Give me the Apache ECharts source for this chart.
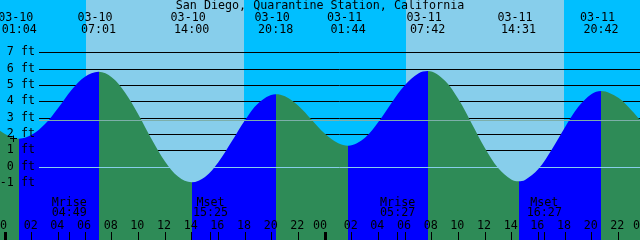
<!DOCTYPE html>
<html><head><meta charset="utf-8">
<script src="https://cdn.jsdelivr.net/npm/echarts@6/dist/echarts.min.js"></script>
<style>html,body{margin:0;padding:0;background:#00BFFF}#c{width:640px;height:240px}</style>
</head><body><div id="c"></div>
<script>
// ---- data (hours counted from 03-10 00:00 local) ----
const titleText = 'San Diego, Quarantine Station, California';
const tideHours = [-1, 0, 1.067, 2, 3, 4, 5, 6, 7.017, 8, 9, 10, 11, 12, 13, 14.0, 15, 16, 17, 18, 19, 20.3, 21, 22, 23, 24, 25, 25.733, 27, 28, 29, 30, 31, 31.7, 33, 34, 35, 36, 37, 38, 38.517, 39, 40, 41, 42, 43, 44, 44.7, 46, 47, 48];
const tideFeet  = [2.60, 2.00, 1.70, 1.94, 2.60, 3.60, 4.70, 5.50, 5.80, 5.47, 4.54, 3.19, 1.67, 0.31, -0.63, -0.97, -0.64, 0.26, 1.53, 2.84, 3.88, 4.43, 4.30, 3.73, 2.87, 2.01, 1.42, 1.28, 1.77, 2.72, 3.91, 4.99, 5.70, 5.85, 5.26, 4.13, 2.64, 1.12, -0.11, -0.81, -0.90, -0.82, -0.15, 1.03, 2.41, 3.66, 4.45, 4.63, 4.21, 3.43, 2.48];
const extremeHours = [1.067, 7.017, 14.0, 20.3, 25.733, 31.7, 38.517, 44.7];
const extremeFeet  = [1.70, 5.80, -0.97, 4.43, 1.28, 5.85, -0.90, 4.63];
const extremeDates = ['03-10', '03-10', '03-10', '03-10', '03-11', '03-11', '03-11', '03-11'];
const extremeClock = ['01:04', '07:01', '14:00', '20:18', '01:44', '07:42', '14:31', '20:42'];
const sunriseHours = [6.08, 30.07];
const sunsetHours  = [17.93, 41.93];
const moonHours = [4.817, 15.417, 29.45, 40.45];
const moonNames = ['Mrise', 'Mset', 'Mrise', 'Mset'];
const moonClock = ['04:49', '15:25', '05:27', '16:27'];
const hourTickValues = [0, 2, 4, 6, 8, 10, 12, 14, 16, 18, 20, 22, 24, 26, 28, 30, 32, 34, 36, 38, 40, 42, 44, 46, 48];
const hourTickLabels = ['00', '02', '04', '06', '08', '10', '12', '14', '16', '18', '20', '22', '00', '02', '04', '06', '08', '10', '12', '14', '16', '18', '20', '22', '00'];
const midnightHours = [0, 24, 48];
const footLevels = [-1, 0, 1, 2, 3, 4, 5, 6, 7];
const footLabels = ['-1 ft', '0 ft', '1 ft', '2 ft', '3 ft', '4 ft', '5 ft', '6 ft', '7 ft'];
const datumFeet = 0;
const meanSeaLevelFeet = 2.82;

// ---- style ----
const NIGHT = '#00BFFF', DAY = '#87CEEB', FLOOD = '#0000FF', EBB = '#2E8B57';
const DATUM_COLOR = '#87CEEB', MSL_COLOR = '#7DAFAA';
const FONT_FAMILY = '"DejaVu Sans Mono", monospace';
const FS = 11.7;
const LINE_LEFT = 39;

const pieces = [];
for (let i = 0; i <= extremeHours.length; i++) {
  const p = {};
  if (i > 0) p.gte = extremeHours[i - 1];
  if (i < extremeHours.length) p.lt = extremeHours[i];
  let rising;
  if (i < extremeHours.length) rising = extremeFeet[i] > (i + 1 < extremeFeet.length ? extremeFeet[i + 1] : extremeFeet[i - 1]);
  else rising = extremeFeet[i - 1] < extremeFeet[i - 2];
  p.color = rising ? FLOOD : EBB;
  pieces.push(p);
}

const chart = echarts.init(document.getElementById('c'), null, {renderer: 'canvas'});
const xMin = -0.375, xMax = 47.625, yMin = -4.5, yMax = 10.2;

function refLine(level, color, z) {
  return {
    type: 'custom', z: z, silent: true,
    data: [[xMin, level]],
    renderItem: (params, api) => {
      const y = Math.round(api.coord([xMin, api.value(1)])[1]) + 0.5;
      const w = params.coordSys.x + params.coordSys.width;
      return {type: 'line', shape: {x1: LINE_LEFT, y1: y, x2: w, y2: y}, style: {stroke: color, lineWidth: 1}};
    }
  };
}
function txt(text, x, y) {
  return {type: 'text', x: x, y: y, style: {text: text, fontFamily: FONT_FAMILY, fontSize: FS, fill: '#000', align: 'center', verticalAlign: 'middle'}};
}

chart.setOption({
  animation: false,
  backgroundColor: NIGHT,
  title: {text: titleText, left: 'center', top: 0, padding: [0, 0, 0, 0],
    textStyle: {fontFamily: FONT_FAMILY, fontSize: FS, fontWeight: 'normal', color: '#000'}},
  grid: {left: 0, right: 0, top: 0, bottom: 0, containLabel: false, outerBoundsMode: 'none'},
  xAxis: [{
    type: 'value', min: xMin, max: xMax, position: 'bottom', z: 10,
    axisLine: {show: false, onZero: false}, splitLine: {show: false}, axisLabel: {show: false},
    axisTick: {show: true, inside: true, length: 8, lineStyle: {color: '#000', width: 1},
      customValues: hourTickValues.filter(h => h < xMax).concat(moonHours)}
  }, {
    type: 'value', min: xMin, max: xMax, position: 'bottom', z: 10,
    axisLine: {show: false, onZero: false}, splitLine: {show: false}, axisLabel: {show: false},
    axisTick: {show: true, inside: true, length: 8, lineStyle: {color: '#000', width: 3},
      customValues: midnightHours.filter(h => h < xMax)}
  }],
  yAxis: {
    type: 'value', min: yMin, max: yMax, position: 'left', offset: -LINE_LEFT, z: 10,
    axisLine: {show: false, onZero: false}, axisTick: {show: false}, splitLine: {show: false},
    axisLabel: {margin: 4, customValues: footLevels,
      formatter: v => footLabels[footLevels.indexOf(v)],
      fontFamily: FONT_FAMILY, fontSize: FS, color: '#000'}
  },
  visualMap: {type: 'piecewise', show: false, dimension: 0, seriesIndex: 2, pieces: pieces},
  series: [
    { // daylight bands
      type: 'custom', z: 0, silent: true,
      data: sunriseHours.map((s, i) => [s, sunsetHours[i]]),
      renderItem: (params, api) => {
        const a = api.coord([api.value(0), yMax]);
        const b = api.coord([api.value(1), yMin]);
        return {type: 'rect', shape: {x: Math.round(a[0]), y: a[1], width: Math.round(b[0]) - Math.round(a[0]), height: b[1] - a[1]},
          style: {fill: DAY}};
      }
    },
    { // foot lines (hidden under the water)
      type: 'custom', z: 1, silent: true,
      data: footLevels.map(v => [xMin, v]),
      renderItem: (params, api) => {
        const y = Math.round(api.coord([xMin, api.value(1)])[1]) + 0.5;
        const w = params.coordSys.x + params.coordSys.width;
        return {type: 'line', shape: {x1: LINE_LEFT, y1: y, x2: w, y2: y}, style: {stroke: '#000', lineWidth: 1}};
      }
    },
    { // tide
      type: 'line', z: 2, smooth: 0.35, showSymbol: false, silent: true,
      data: tideHours.map((h, i) => [h, tideFeet[i]]),
      lineStyle: {opacity: 0},
      areaStyle: {opacity: 1, origin: 'start'}
    },
    refLine(datumFeet, DATUM_COLOR, 3),
    refLine(meanSeaLevelFeet, MSL_COLOR, 3),
    { // high/low labels
      type: 'custom', z: 5, silent: true,
      data: extremeHours.map((h, i) => [h, extremeFeet[i], i]),
      renderItem: (params, api) => {
        const x = api.coord([api.value(0), 0])[0];
        const i = api.value(2);
        return {type: 'group', children: [txt(extremeDates[i], x - 3.5, 17.5), txt(extremeClock[i], x, 29.5)]};
      }
    },
    { // moon labels
      type: 'custom', z: 5, silent: true,
      data: moonHours.map((h, i) => [h, 0, i]),
      renderItem: (params, api) => {
        const x = api.coord([api.value(0), 0])[0];
        const i = api.value(2);
        return {type: 'group', children: [txt(moonNames[i], x, 202.5), txt(moonClock[i], x, 213)]};
      }
    },
    { // hour labels along the bottom
      type: 'custom', z: 5, silent: true,
      data: hourTickValues.map((h, i) => [h, 0, i]),
      renderItem: (params, api) => {
        const h = api.value(0);
        const x = api.coord([h, 0])[0] - (midnightHours.indexOf(h) >= 0 ? 5 : 1);
        return txt(hourTickLabels[api.value(2)], x, 226);
      }
    }
  ],
  graphic: [
    {type: 'line', z: 20, shape: {x1: 10, y1: 138.5, x2: 17, y2: 138.5}, style: {stroke: '#000', lineWidth: 1}},
    {type: 'line', z: 20, shape: {x1: 13.5, y1: 135.5, x2: 13.5, y2: 142}, style: {stroke: '#000', lineWidth: 1}}
  ]
});
</script></body></html>
